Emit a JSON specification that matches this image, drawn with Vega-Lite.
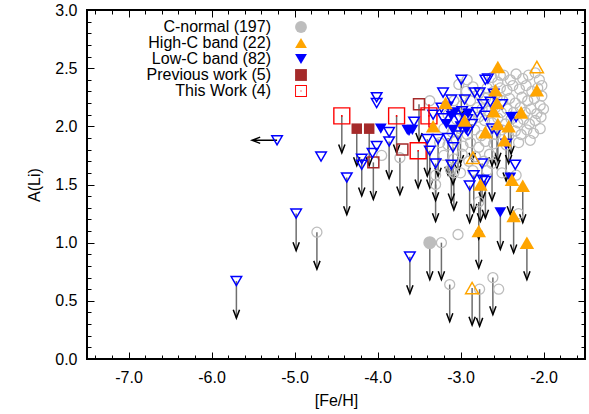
{
  "$schema": "https://vega.github.io/schema/vega-lite/v6.json",
  "width": 498,
  "height": 349,
  "autosize": {"type": "none"},
  "padding": {"left": 87, "top": 10, "right": 4, "bottom": 55},
  "config": {
    "view": {"stroke": "black", "strokeWidth": 2},
    "font": "Liberation Sans",
    "axis": {"domain": false, "grid": false, "labelFont": "Liberation Sans", "labelFontSize": 16, "labelColor": "black", "tickColor": "black", "tickWidth": 1, "titleFont": "Liberation Sans", "titleFontSize": 16, "titleFontWeight": "normal", "titleColor": "black"},
    "legend": {"orient": "none", "legendX": 206, "legendY": 9, "title": null, "labelFontSize": 16, "labelFont": "Liberation Sans", "labelColor": "black", "labelAlign": "right", "labelOffset": -38, "symbolSize": 140, "symbolStrokeWidth": 0, "rowPadding": -1.2, "padding": 0}
  },
  "datasets": {
    "pts": [
      {"feh": -2.62, "li": 2.42, "grp": "C-normal (197)", "fill": 0, "lim": 0},
      {"feh": -2.55, "li": 2.38, "grp": "C-normal (197)", "fill": 0, "lim": 0},
      {"feh": -2.48, "li": 2.44, "grp": "C-normal (197)", "fill": 0, "lim": 0},
      {"feh": -2.40, "li": 2.40, "grp": "C-normal (197)", "fill": 0, "lim": 0},
      {"feh": -2.33, "li": 2.45, "grp": "C-normal (197)", "fill": 0, "lim": 0},
      {"feh": -2.25, "li": 2.41, "grp": "C-normal (197)", "fill": 0, "lim": 0},
      {"feh": -2.18, "li": 2.44, "grp": "C-normal (197)", "fill": 0, "lim": 0},
      {"feh": -2.10, "li": 2.46, "grp": "C-normal (197)", "fill": 0, "lim": 0},
      {"feh": -2.05, "li": 2.40, "grp": "C-normal (197)", "fill": 0, "lim": 0},
      {"feh": -2.68, "li": 2.33, "grp": "C-normal (197)", "fill": 0, "lim": 0},
      {"feh": -2.60, "li": 2.30, "grp": "C-normal (197)", "fill": 0, "lim": 0},
      {"feh": -2.52, "li": 2.33, "grp": "C-normal (197)", "fill": 0, "lim": 0},
      {"feh": -2.44, "li": 2.31, "grp": "C-normal (197)", "fill": 0, "lim": 0},
      {"feh": -2.37, "li": 2.35, "grp": "C-normal (197)", "fill": 0, "lim": 0},
      {"feh": -2.29, "li": 2.32, "grp": "C-normal (197)", "fill": 0, "lim": 0},
      {"feh": -2.21, "li": 2.35, "grp": "C-normal (197)", "fill": 0, "lim": 0},
      {"feh": -2.14, "li": 2.30, "grp": "C-normal (197)", "fill": 0, "lim": 0},
      {"feh": -2.07, "li": 2.33, "grp": "C-normal (197)", "fill": 0, "lim": 0},
      {"feh": -2.02, "li": 2.26, "grp": "C-normal (197)", "fill": 0, "lim": 0},
      {"feh": -2.70, "li": 2.24, "grp": "C-normal (197)", "fill": 0, "lim": 0},
      {"feh": -2.63, "li": 2.21, "grp": "C-normal (197)", "fill": 0, "lim": 0},
      {"feh": -2.56, "li": 2.25, "grp": "C-normal (197)", "fill": 0, "lim": 0},
      {"feh": -2.49, "li": 2.22, "grp": "C-normal (197)", "fill": 0, "lim": 0},
      {"feh": -2.41, "li": 2.24, "grp": "C-normal (197)", "fill": 0, "lim": 0},
      {"feh": -2.34, "li": 2.20, "grp": "C-normal (197)", "fill": 0, "lim": 0},
      {"feh": -2.26, "li": 2.25, "grp": "C-normal (197)", "fill": 0, "lim": 0},
      {"feh": -2.19, "li": 2.22, "grp": "C-normal (197)", "fill": 0, "lim": 0},
      {"feh": -2.11, "li": 2.24, "grp": "C-normal (197)", "fill": 0, "lim": 0},
      {"feh": -2.04, "li": 2.18, "grp": "C-normal (197)", "fill": 0, "lim": 0},
      {"feh": -2.74, "li": 2.15, "grp": "C-normal (197)", "fill": 0, "lim": 0},
      {"feh": -2.66, "li": 2.13, "grp": "C-normal (197)", "fill": 0, "lim": 0},
      {"feh": -2.58, "li": 2.16, "grp": "C-normal (197)", "fill": 0, "lim": 0},
      {"feh": -2.51, "li": 2.12, "grp": "C-normal (197)", "fill": 0, "lim": 0},
      {"feh": -2.44, "li": 2.15, "grp": "C-normal (197)", "fill": 0, "lim": 0},
      {"feh": -2.36, "li": 2.12, "grp": "C-normal (197)", "fill": 0, "lim": 0},
      {"feh": -2.28, "li": 2.16, "grp": "C-normal (197)", "fill": 0, "lim": 0},
      {"feh": -2.22, "li": 2.12, "grp": "C-normal (197)", "fill": 0, "lim": 0},
      {"feh": -2.15, "li": 2.15, "grp": "C-normal (197)", "fill": 0, "lim": 0},
      {"feh": -2.08, "li": 2.11, "grp": "C-normal (197)", "fill": 0, "lim": 0},
      {"feh": -2.71, "li": 2.05, "grp": "C-normal (197)", "fill": 0, "lim": 0},
      {"feh": -2.62, "li": 2.03, "grp": "C-normal (197)", "fill": 0, "lim": 0},
      {"feh": -2.55, "li": 2.07, "grp": "C-normal (197)", "fill": 0, "lim": 0},
      {"feh": -2.46, "li": 2.02, "grp": "C-normal (197)", "fill": 0, "lim": 0},
      {"feh": -2.39, "li": 2.06, "grp": "C-normal (197)", "fill": 0, "lim": 0},
      {"feh": -2.31, "li": 2.03, "grp": "C-normal (197)", "fill": 0, "lim": 0},
      {"feh": -2.24, "li": 2.06, "grp": "C-normal (197)", "fill": 0, "lim": 0},
      {"feh": -2.17, "li": 2.02, "grp": "C-normal (197)", "fill": 0, "lim": 0},
      {"feh": -2.10, "li": 2.05, "grp": "C-normal (197)", "fill": 0, "lim": 0},
      {"feh": -2.03, "li": 2.08, "grp": "C-normal (197)", "fill": 0, "lim": 0},
      {"feh": -2.00, "li": 2.15, "grp": "C-normal (197)", "fill": 0, "lim": 0},
      {"feh": -2.02, "li": 2.35, "grp": "C-normal (197)", "fill": 0, "lim": 0},
      {"feh": -2.04, "li": 1.98, "grp": "C-normal (197)", "fill": 0, "lim": 0},
      {"feh": -2.66, "li": 1.96, "grp": "C-normal (197)", "fill": 0, "lim": 0},
      {"feh": -2.58, "li": 1.93, "grp": "C-normal (197)", "fill": 0, "lim": 0},
      {"feh": -2.50, "li": 1.97, "grp": "C-normal (197)", "fill": 0, "lim": 0},
      {"feh": -2.42, "li": 1.92, "grp": "C-normal (197)", "fill": 0, "lim": 0},
      {"feh": -2.34, "li": 1.96, "grp": "C-normal (197)", "fill": 0, "lim": 0},
      {"feh": -2.27, "li": 1.93, "grp": "C-normal (197)", "fill": 0, "lim": 0},
      {"feh": -2.20, "li": 1.97, "grp": "C-normal (197)", "fill": 0, "lim": 0},
      {"feh": -2.12, "li": 1.94, "grp": "C-normal (197)", "fill": 0, "lim": 0},
      {"feh": -2.60, "li": 1.85, "grp": "C-normal (197)", "fill": 0, "lim": 0},
      {"feh": -2.45, "li": 1.84, "grp": "C-normal (197)", "fill": 0, "lim": 0},
      {"feh": -2.30, "li": 1.86, "grp": "C-normal (197)", "fill": 0, "lim": 0},
      {"feh": -2.16, "li": 1.88, "grp": "C-normal (197)", "fill": 0, "lim": 0},
      {"feh": -2.92, "li": 2.40, "grp": "C-normal (197)", "fill": 0, "lim": 0},
      {"feh": -2.52, "li": 2.44, "grp": "C-normal (197)", "fill": 0, "lim": 0},
      {"feh": -3.02, "li": 2.36, "grp": "C-normal (197)", "fill": 0, "lim": 0},
      {"feh": -2.93, "li": 2.30, "grp": "C-normal (197)", "fill": 0, "lim": 0},
      {"feh": -2.85, "li": 2.34, "grp": "C-normal (197)", "fill": 0, "lim": 0},
      {"feh": -2.78, "li": 2.28, "grp": "C-normal (197)", "fill": 0, "lim": 0},
      {"feh": -3.08, "li": 2.22, "grp": "C-normal (197)", "fill": 0, "lim": 0},
      {"feh": -2.98, "li": 2.18, "grp": "C-normal (197)", "fill": 0, "lim": 0},
      {"feh": -2.88, "li": 2.22, "grp": "C-normal (197)", "fill": 0, "lim": 0},
      {"feh": -2.80, "li": 2.16, "grp": "C-normal (197)", "fill": 0, "lim": 0},
      {"feh": -3.15, "li": 2.10, "grp": "C-normal (197)", "fill": 0, "lim": 0},
      {"feh": -3.05, "li": 2.06, "grp": "C-normal (197)", "fill": 0, "lim": 0},
      {"feh": -2.95, "li": 2.10, "grp": "C-normal (197)", "fill": 0, "lim": 0},
      {"feh": -2.86, "li": 2.05, "grp": "C-normal (197)", "fill": 0, "lim": 0},
      {"feh": -2.78, "li": 2.08, "grp": "C-normal (197)", "fill": 0, "lim": 0},
      {"feh": -3.20, "li": 1.98, "grp": "C-normal (197)", "fill": 0, "lim": 0},
      {"feh": -3.10, "li": 1.95, "grp": "C-normal (197)", "fill": 0, "lim": 0},
      {"feh": -3.00, "li": 1.98, "grp": "C-normal (197)", "fill": 0, "lim": 0},
      {"feh": -2.92, "li": 1.93, "grp": "C-normal (197)", "fill": 0, "lim": 0},
      {"feh": -2.83, "li": 1.97, "grp": "C-normal (197)", "fill": 0, "lim": 0},
      {"feh": -2.75, "li": 1.92, "grp": "C-normal (197)", "fill": 0, "lim": 0},
      {"feh": -3.25, "li": 1.86, "grp": "C-normal (197)", "fill": 0, "lim": 0},
      {"feh": -3.15, "li": 1.84, "grp": "C-normal (197)", "fill": 0, "lim": 0},
      {"feh": -3.05, "li": 1.88, "grp": "C-normal (197)", "fill": 0, "lim": 0},
      {"feh": -2.97, "li": 1.83, "grp": "C-normal (197)", "fill": 0, "lim": 0},
      {"feh": -2.88, "li": 1.86, "grp": "C-normal (197)", "fill": 0, "lim": 0},
      {"feh": -2.78, "li": 1.82, "grp": "C-normal (197)", "fill": 0, "lim": 0},
      {"feh": -2.70, "li": 1.87, "grp": "C-normal (197)", "fill": 0, "lim": 0},
      {"feh": -3.20, "li": 1.75, "grp": "C-normal (197)", "fill": 0, "lim": 0},
      {"feh": -3.08, "li": 1.72, "grp": "C-normal (197)", "fill": 0, "lim": 0},
      {"feh": -2.98, "li": 1.76, "grp": "C-normal (197)", "fill": 0, "lim": 0},
      {"feh": -2.90, "li": 1.70, "grp": "C-normal (197)", "fill": 0, "lim": 0},
      {"feh": -2.82, "li": 1.74, "grp": "C-normal (197)", "fill": 0, "lim": 0},
      {"feh": -2.72, "li": 1.70, "grp": "C-normal (197)", "fill": 0, "lim": 0},
      {"feh": -2.65, "li": 1.76, "grp": "C-normal (197)", "fill": 0, "lim": 0},
      {"feh": -3.12, "li": 1.63, "grp": "C-normal (197)", "fill": 0, "lim": 0},
      {"feh": -3.00, "li": 1.60, "grp": "C-normal (197)", "fill": 0, "lim": 0},
      {"feh": -2.85, "li": 1.62, "grp": "C-normal (197)", "fill": 0, "lim": 0},
      {"feh": -2.68, "li": 1.62, "grp": "C-normal (197)", "fill": 0, "lim": 0},
      {"feh": -3.95, "li": 1.75, "grp": "C-normal (197)", "fill": 0, "lim": 0},
      {"feh": -3.73, "li": 1.73, "grp": "C-normal (197)", "fill": 0, "lim": 1},
      {"feh": -3.37, "li": 2.22, "grp": "C-normal (197)", "fill": 0, "lim": 0},
      {"feh": -3.30, "li": 1.58, "grp": "C-normal (197)", "fill": 0, "lim": 0},
      {"feh": -3.30, "li": 1.50, "grp": "C-normal (197)", "fill": 0, "lim": 1},
      {"feh": -3.08, "li": 1.60, "grp": "C-normal (197)", "fill": 0, "lim": 1},
      {"feh": -2.62, "li": 1.68, "grp": "C-normal (197)", "fill": 0, "lim": 1},
      {"feh": -2.50, "li": 1.60, "grp": "C-normal (197)", "fill": 0, "lim": 0},
      {"feh": -2.33, "li": 1.58, "grp": "C-normal (197)", "fill": 0, "lim": 0},
      {"feh": -2.30, "li": 1.25, "grp": "C-normal (197)", "fill": 0, "lim": 0},
      {"feh": -2.78, "li": 1.35, "grp": "C-normal (197)", "fill": 0, "lim": 1},
      {"feh": -4.73, "li": 1.09, "grp": "C-normal (197)", "fill": 0, "lim": 1},
      {"feh": -3.37, "li": 1.00, "grp": "C-normal (197)", "fill": 1, "lim": 1},
      {"feh": -3.23, "li": 1.00, "grp": "C-normal (197)", "fill": 0, "lim": 1},
      {"feh": -3.13, "li": 0.64, "grp": "C-normal (197)", "fill": 0, "lim": 1},
      {"feh": -3.03, "li": 1.07, "grp": "C-normal (197)", "fill": 0, "lim": 0},
      {"feh": -2.77, "li": 0.60, "grp": "C-normal (197)", "fill": 0, "lim": 1},
      {"feh": -2.61, "li": 0.70, "grp": "C-normal (197)", "fill": 0, "lim": 1},
      {"feh": -2.54, "li": 0.60, "grp": "C-normal (197)", "fill": 0, "lim": 0},

      {"feh": -2.55, "li": 2.51, "grp": "High-C band (22)", "fill": 1, "lim": 0},
      {"feh": -2.08, "li": 2.51, "grp": "High-C band (22)", "fill": 0, "lim": 0},
      {"feh": -2.08, "li": 2.31, "grp": "High-C band (22)", "fill": 1, "lim": 0},
      {"feh": -2.58, "li": 2.31, "grp": "High-C band (22)", "fill": 1, "lim": 0},
      {"feh": -2.56, "li": 2.20, "grp": "High-C band (22)", "fill": 1, "lim": 0},
      {"feh": -2.42, "li": 2.00, "grp": "High-C band (22)", "fill": 1, "lim": 1},
      {"feh": -2.55, "li": 2.02, "grp": "High-C band (22)", "fill": 1, "lim": 1},
      {"feh": -2.85, "li": 1.73, "grp": "High-C band (22)", "fill": 0, "lim": 0},
      {"feh": -2.76, "li": 1.50, "grp": "High-C band (22)", "fill": 1, "lim": 1},
      {"feh": -2.25, "li": 1.49, "grp": "High-C band (22)", "fill": 1, "lim": 1},
      {"feh": -2.38, "li": 1.54, "grp": "High-C band (22)", "fill": 1, "lim": 0},
      {"feh": -2.78, "li": 1.10, "grp": "High-C band (22)", "fill": 1, "lim": 1},
      {"feh": -2.36, "li": 1.23, "grp": "High-C band (22)", "fill": 1, "lim": 1},
      {"feh": -2.20, "li": 1.00, "grp": "High-C band (22)", "fill": 1, "lim": 1},
      {"feh": -2.86, "li": 0.61, "grp": "High-C band (22)", "fill": 0, "lim": 1},
      {"feh": -3.18, "li": 2.20, "grp": "High-C band (22)", "fill": 1, "lim": 0},
      {"feh": -3.33, "li": 2.00, "grp": "High-C band (22)", "fill": 1, "lim": 0},
      {"feh": -2.60, "li": 2.13, "grp": "High-C band (22)", "fill": 1, "lim": 0},
      {"feh": -2.70, "li": 1.95, "grp": "High-C band (22)", "fill": 1, "lim": 0},
      {"feh": -2.95, "li": 2.05, "grp": "High-C band (22)", "fill": 1, "lim": 0},
      {"feh": -2.27, "li": 2.12, "grp": "High-C band (22)", "fill": 1, "lim": 0},
      {"feh": -2.47, "li": 1.88, "grp": "High-C band (22)", "fill": 1, "lim": 0},

      {"feh": -5.21, "li": 1.88, "grp": "Low-C band (82)", "fill": 0, "lim": 2},
      {"feh": -4.68, "li": 1.74, "grp": "Low-C band (82)", "fill": 0, "lim": 0},
      {"feh": -4.98, "li": 1.25, "grp": "Low-C band (82)", "fill": 0, "lim": 1},
      {"feh": -5.70, "li": 0.67, "grp": "Low-C band (82)", "fill": 0, "lim": 1},
      {"feh": -4.37, "li": 1.56, "grp": "Low-C band (82)", "fill": 0, "lim": 1},
      {"feh": -3.61, "li": 0.88, "grp": "Low-C band (82)", "fill": 0, "lim": 1},
      {"feh": -4.01, "li": 2.25, "grp": "Low-C band (82)", "fill": 0, "lim": 0},
      {"feh": -4.01, "li": 2.20, "grp": "Low-C band (82)", "fill": 0, "lim": 0},
      {"feh": -3.96, "li": 1.98, "grp": "Low-C band (82)", "fill": 1, "lim": 0},
      {"feh": -3.86, "li": 1.95, "grp": "Low-C band (82)", "fill": 0, "lim": 0},
      {"feh": -3.86, "li": 1.87, "grp": "Low-C band (82)", "fill": 0, "lim": 1},
      {"feh": -3.62, "li": 1.96, "grp": "Low-C band (82)", "fill": 1, "lim": 0},
      {"feh": -3.56, "li": 2.04, "grp": "Low-C band (82)", "fill": 0, "lim": 0},
      {"feh": -3.40, "li": 1.89, "grp": "Low-C band (82)", "fill": 0, "lim": 1},
      {"feh": -4.01, "li": 1.83, "grp": "Low-C band (82)", "fill": 0, "lim": 0},
      {"feh": -4.06, "li": 1.77, "grp": "Low-C band (82)", "fill": 0, "lim": 0},
      {"feh": -4.19, "li": 1.72, "grp": "Low-C band (82)", "fill": 0, "lim": 1},
      {"feh": -4.19, "li": 1.67, "grp": "Low-C band (82)", "fill": 0, "lim": 0},
      {"feh": -3.37, "li": 1.79, "grp": "Low-C band (82)", "fill": 0, "lim": 1},
      {"feh": -3.30, "li": 1.68, "grp": "Low-C band (82)", "fill": 0, "lim": 1},
      {"feh": -2.99, "li": 2.40, "grp": "Low-C band (82)", "fill": 0, "lim": 1},
      {"feh": -2.70, "li": 2.40, "grp": "Low-C band (82)", "fill": 0, "lim": 0},
      {"feh": -2.67, "li": 2.41, "grp": "Low-C band (82)", "fill": 0, "lim": 0},
      {"feh": -3.21, "li": 2.29, "grp": "Low-C band (82)", "fill": 0, "lim": 0},
      {"feh": -3.11, "li": 2.23, "grp": "Low-C band (82)", "fill": 0, "lim": 0},
      {"feh": -2.95, "li": 2.23, "grp": "Low-C band (82)", "fill": 0, "lim": 0},
      {"feh": -2.83, "li": 2.29, "grp": "Low-C band (82)", "fill": 0, "lim": 0},
      {"feh": -2.77, "li": 2.29, "grp": "Low-C band (82)", "fill": 0, "lim": 0},
      {"feh": -2.73, "li": 2.19, "grp": "Low-C band (82)", "fill": 0, "lim": 0},
      {"feh": -2.50, "li": 2.19, "grp": "Low-C band (82)", "fill": 0, "lim": 0},
      {"feh": -3.23, "li": 2.16, "grp": "Low-C band (82)", "fill": 0, "lim": 0},
      {"feh": -3.15, "li": 2.17, "grp": "Low-C band (82)", "fill": 1, "lim": 0},
      {"feh": -3.07, "li": 2.12, "grp": "Low-C band (82)", "fill": 1, "lim": 0},
      {"feh": -2.98, "li": 2.13, "grp": "Low-C band (82)", "fill": 0, "lim": 0},
      {"feh": -2.91, "li": 2.11, "grp": "Low-C band (82)", "fill": 1, "lim": 0},
      {"feh": -3.21, "li": 2.07, "grp": "Low-C band (82)", "fill": 0, "lim": 0},
      {"feh": -3.11, "li": 2.09, "grp": "Low-C band (82)", "fill": 1, "lim": 0},
      {"feh": -3.02, "li": 2.07, "grp": "Low-C band (82)", "fill": 0, "lim": 0},
      {"feh": -2.92, "li": 2.06, "grp": "Low-C band (82)", "fill": 0, "lim": 0},
      {"feh": -3.27, "li": 1.89, "grp": "Low-C band (82)", "fill": 0, "lim": 1},
      {"feh": -3.15, "li": 1.90, "grp": "Low-C band (82)", "fill": 0, "lim": 1},
      {"feh": -3.03, "li": 1.92, "grp": "Low-C band (82)", "fill": 0, "lim": 1},
      {"feh": -2.91, "li": 1.96, "grp": "Low-C band (82)", "fill": 0, "lim": 0},
      {"feh": -2.70, "li": 2.09, "grp": "Low-C band (82)", "fill": 0, "lim": 0},
      {"feh": -2.62, "li": 1.98, "grp": "Low-C band (82)", "fill": 0, "lim": 1},
      {"feh": -2.56, "li": 1.96, "grp": "Low-C band (82)", "fill": 0, "lim": 1},
      {"feh": -2.39, "li": 2.08, "grp": "Low-C band (82)", "fill": 1, "lim": 1},
      {"feh": -2.33, "li": 2.08, "grp": "Low-C band (82)", "fill": 0, "lim": 0},
      {"feh": -3.09, "li": 1.82, "grp": "Low-C band (82)", "fill": 0, "lim": 1},
      {"feh": -3.11, "li": 1.67, "grp": "Low-C band (82)", "fill": 0, "lim": 1},
      {"feh": -2.74, "li": 1.68, "grp": "Low-C band (82)", "fill": 0, "lim": 1},
      {"feh": -2.84, "li": 1.58, "grp": "Low-C band (82)", "fill": 0, "lim": 1},
      {"feh": -2.70, "li": 1.53, "grp": "Low-C band (82)", "fill": 0, "lim": 1},
      {"feh": -2.89, "li": 1.49, "grp": "Low-C band (82)", "fill": 0, "lim": 1},
      {"feh": -2.34, "li": 1.67, "grp": "Low-C band (82)", "fill": 0, "lim": 0},
      {"feh": -2.40, "li": 1.56, "grp": "Low-C band (82)", "fill": 1, "lim": 1},
      {"feh": -2.52, "li": 1.26, "grp": "Low-C band (82)", "fill": 1, "lim": 1},
      {"feh": -3.64, "li": 1.97, "grp": "Low-C band (82)", "fill": 1, "lim": 0},
      {"feh": -3.58, "li": 1.97, "grp": "Low-C band (82)", "fill": 1, "lim": 0},
      {"feh": -3.09, "li": 1.97, "grp": "Low-C band (82)", "fill": 1, "lim": 0},
      {"feh": -2.64, "li": 2.21, "grp": "Low-C band (82)", "fill": 0, "lim": 0},
      {"feh": -2.73, "li": 1.54, "grp": "Low-C band (82)", "fill": 0, "lim": 0},
      {"feh": -2.93, "li": 1.97, "grp": "Low-C band (82)", "fill": 1, "lim": 0},
      {"feh": -3.00, "li": 2.00, "grp": "Low-C band (82)", "fill": 1, "lim": 1},
      {"feh": -2.86, "li": 2.02, "grp": "Low-C band (82)", "fill": 0, "lim": 1},
      {"feh": -3.17, "li": 2.02, "grp": "Low-C band (82)", "fill": 1, "lim": 0},
      {"feh": -2.80, "li": 2.12, "grp": "Low-C band (82)", "fill": 0, "lim": 0},
      {"feh": -3.33, "li": 2.10, "grp": "Low-C band (82)", "fill": 0, "lim": 0},
      {"feh": -2.60, "li": 2.28, "grp": "Low-C band (82)", "fill": 0, "lim": 0},
      {"feh": -2.45, "li": 1.85, "grp": "Low-C band (82)", "fill": 0, "lim": 1},

      {"feh": -4.25, "li": 1.98, "grp": "Previous work (5)", "fill": 1, "lim": 1},
      {"feh": -4.10, "li": 1.98, "grp": "Previous work (5)", "fill": 1, "lim": 1},
      {"feh": -4.05, "li": 1.69, "grp": "Previous work (5)", "fill": 0, "lim": 1},
      {"feh": -3.70, "li": 1.80, "grp": "Previous work (5)", "fill": 0, "lim": 0},
      {"feh": -3.50, "li": 2.19, "grp": "Previous work (5)", "fill": 0, "lim": 1},

      {"feh": -4.43, "li": 2.09, "grp": "This Work (4)", "fill": 0, "lim": 1},
      {"feh": -3.77, "li": 2.09, "grp": "This Work (4)", "fill": 0, "lim": 1},
      {"feh": -3.51, "li": 1.79, "grp": "This Work (4)", "fill": 0, "lim": 1},
      {"feh": -3.38, "li": 2.09, "grp": "This Work (4)", "fill": 0, "lim": 0, "err": 0.1}
    ]
  },
  "data": {"name": "pts"},
  "encoding": {
    "x": {"field": "feh", "type": "quantitative", "scale": {"domain": [-7.5, -1.5], "nice": false, "zero": false}, "axis": null},
    "y": {"field": "li", "type": "quantitative", "scale": {"domain": [0, 3], "nice": false, "zero": false}, "axis": null}
  },
  "resolve": {"axis": {"x": "independent", "y": "independent"}},
  "layer": [
    {
      "data": {"values": [{}]},
      "mark": {"type": "rule", "color": "#ff4a4a", "strokeDash": [7, 5], "strokeWidth": 1.5},
      "encoding": {
        "x": null,
        "y": {"datum": 2.2, "type": "quantitative", "axis": null}
      }
    },
    {
      "transform": [{"filter": "datum.lim == 1"}],
      "mark": {"type": "point", "shape": "M0,0L0,2", "size": 1369, "filled": false, "stroke": "#6e6e6e", "strokeWidth": 1.5, "opacity": 1},
      "encoding": {
        "x": {"field": "feh", "type": "quantitative",
          "axis": {"orient": "bottom", "values": [-7, -6, -5, -4, -3, -2], "tickSize": -7, "labelPadding": 17, "labelExpr": "replace(format(datum.value, '.1f'), '\u2212', '-')", "title": "[Fe/H]", "titlePadding": 7}},
        "y": {"field": "li", "type": "quantitative",
          "axis": {"orient": "left", "values": [0, 0.5, 1, 1.5, 2, 2.5, 3], "tickSize": -7, "labelPadding": 17, "format": ".1f", "title": "A(Li)", "titlePadding": 12}}
      }
    },
    {
      "transform": [{"filter": "datum.lim == 1"}],
      "mark": {"type": "point", "shape": "M-0.17,1.55L0,2L0.17,1.55", "size": 1369, "filled": false, "stroke": "black", "strokeWidth": 1.5, "opacity": 1},
      "encoding": {
        "x": {"field": "feh", "type": "quantitative",
          "axis": {"orient": "top", "values": [-7, -6, -5, -4, -3, -2], "tickSize": -7, "labels": false, "title": null}},
        "y": {"field": "li", "type": "quantitative",
          "axis": {"orient": "right", "values": [0, 0.5, 1, 1.5, 2, 2.5, 3], "tickSize": -7, "labels": false, "title": null}}
      }
    },
    {
      "transform": [{"filter": "datum.lim == 2"}],
      "mark": {"type": "point", "shape": "M0,0L-2,0M-1.35,-0.25L-2,0L-1.35,0.25", "size": 625, "filled": false, "stroke": "black", "strokeWidth": 1.5, "opacity": 1},
      "encoding": {
        "x": {"field": "feh", "type": "quantitative",
          "axis": {"orient": "bottom", "values": [-7.4, -7.2, -6.8, -6.6, -6.4, -6.2, -5.8, -5.6, -5.4, -5.2, -4.8, -4.6, -4.4, -4.2, -3.8, -3.6, -3.4, -3.2, -2.8, -2.6, -2.4, -2.2, -1.8, -1.6], "tickSize": -4, "labels": false, "title": null}},
        "y": {"field": "li", "type": "quantitative",
          "axis": {"orient": "left", "values": [0.1, 0.2, 0.3, 0.4, 0.6, 0.7, 0.8, 0.9, 1.1, 1.2, 1.3, 1.4, 1.6, 1.7, 1.8, 1.9, 2.1, 2.2, 2.3, 2.4, 2.6, 2.7, 2.8, 2.9], "tickSize": -4, "labels": false, "title": null}}
      }
    },
    {
      "transform": [{"filter": "datum.grp == 'C-normal (197)' && datum.fill == 0"}],
      "mark": {"type": "point", "filled": false, "strokeWidth": 1.3, "size": 100, "opacity": 1},
      "encoding": {
        "x": {"field": "feh", "type": "quantitative",
          "axis": {"orient": "top", "values": [-7.4, -7.2, -6.8, -6.6, -6.4, -6.2, -5.8, -5.6, -5.4, -5.2, -4.8, -4.6, -4.4, -4.2, -3.8, -3.6, -3.4, -3.2, -2.8, -2.6, -2.4, -2.2, -1.8, -1.6], "tickSize": -4, "labels": false, "title": null}},
        "y": {"field": "li", "type": "quantitative",
          "axis": {"orient": "right", "values": [0.1, 0.2, 0.3, 0.4, 0.6, 0.7, 0.8, 0.9, 1.1, 1.2, 1.3, 1.4, 1.6, 1.7, 1.8, 1.9, 2.1, 2.2, 2.3, 2.4, 2.6, 2.7, 2.8, 2.9], "tickSize": -4, "labels": false, "title": null}},
        "color": {"field": "grp", "type": "nominal",
          "scale": {"domain": ["C-normal (197)", "High-C band (22)", "Low-C band (82)", "Previous work (5)", "This Work (4)"], "range": ["#bdbdbd", "#ffa500", "#0000ff", "#a52a2a", "#ff0000"]}},
        "shape": {"field": "grp", "type": "nominal",
          "scale": {"domain": ["C-normal (197)", "High-C band (22)", "Low-C band (82)", "Previous work (5)", "This Work (4)"], "range": ["circle", "triangle-up", "triangle-down", "square", "M-1,-1L1,-1L1,1L-1,1ZM-0.84,-0.84L-0.84,0.84L0.84,0.84L0.84,-0.84ZM-0.09,-0.09L0.09,-0.09L0.09,0.09L-0.09,0.09Z"]}}
      }
    },
    {
      "transform": [{"filter": "datum.grp == 'C-normal (197)' && datum.fill == 1"}],
      "mark": {"type": "point", "filled": true, "size": 170, "opacity": 1},
      "encoding": {"color": {"field": "grp", "type": "nominal"}, "shape": {"field": "grp", "type": "nominal"}}
    },
    {
      "transform": [{"filter": "datum.grp == 'Previous work (5)' && datum.fill == 0"}],
      "mark": {"type": "point", "filled": false, "strokeWidth": 1.5, "size": 120, "opacity": 1},
      "encoding": {"color": {"field": "grp", "type": "nominal"}, "shape": {"field": "grp", "type": "nominal"}}
    },
    {
      "transform": [{"filter": "datum.grp == 'Previous work (5)' && datum.fill == 1"}],
      "mark": {"type": "point", "filled": true, "size": 110, "opacity": 1},
      "encoding": {"color": {"field": "grp", "type": "nominal"}, "shape": {"field": "grp", "type": "nominal"}}
    },
    {
      "transform": [{"filter": "datum.grp == 'This Work (4)'"}],
      "mark": {"type": "point", "filled": true, "size": 300, "opacity": 1},
      "encoding": {"color": {"field": "grp", "type": "nominal"}, "shape": {"field": "grp", "type": "nominal"}}
    },
    {
      "transform": [{"filter": "datum.grp == 'Low-C band (82)' && datum.fill == 0"}],
      "mark": {"type": "point", "filled": false, "strokeWidth": 1.5, "size": 110, "opacity": 1},
      "encoding": {"color": {"field": "grp", "type": "nominal"}, "shape": {"field": "grp", "type": "nominal"}}
    },
    {
      "transform": [{"filter": "datum.grp == 'Low-C band (82)' && datum.fill == 1"}],
      "mark": {"type": "point", "filled": true, "size": 140, "opacity": 1},
      "encoding": {"color": {"field": "grp", "type": "nominal"}, "shape": {"field": "grp", "type": "nominal"}}
    },
    {
      "transform": [{"filter": "datum.grp == 'High-C band (22)' && datum.fill == 0"}],
      "mark": {"type": "point", "filled": false, "strokeWidth": 1.5, "size": 170, "opacity": 1},
      "encoding": {"color": {"field": "grp", "type": "nominal"}, "shape": {"field": "grp", "type": "nominal"}}
    },
    {
      "transform": [{"filter": "datum.grp == 'High-C band (22)' && datum.fill == 1"}],
      "mark": {"type": "point", "filled": true, "size": 210, "opacity": 1},
      "encoding": {"color": {"field": "grp", "type": "nominal"}, "shape": {"field": "grp", "type": "nominal"}}
    },
    {
      "transform": [{"filter": "datum.err > 0"}, {"calculate": "datum.li - datum.err", "as": "lo"}, {"calculate": "datum.li + datum.err", "as": "hi"}],
      "mark": {"type": "rule", "color": "#ff0000", "strokeWidth": 1.5},
      "encoding": {
        "y": {"field": "lo", "type": "quantitative", "axis": null},
        "y2": {"field": "hi"}
      }
    }
  ]
}
